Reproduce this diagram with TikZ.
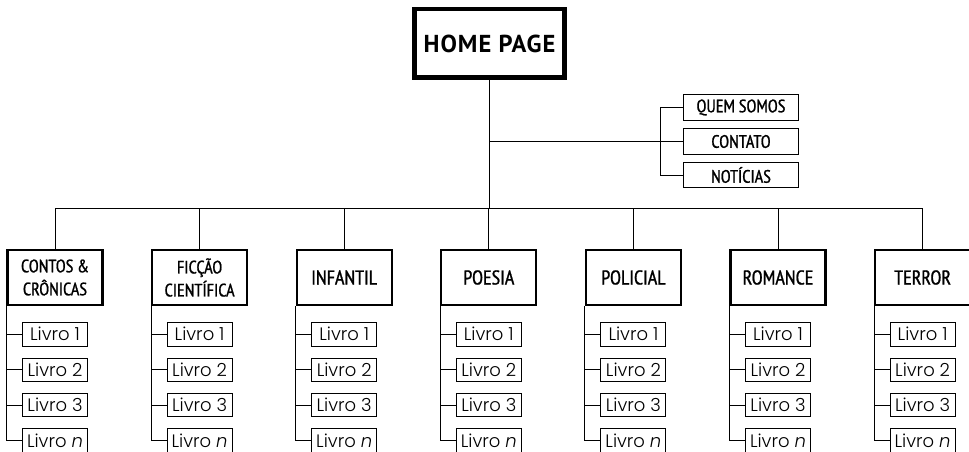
\documentclass[tikz,border=0pt]{standalone}
\usepackage{fontspec}
\setsansfont{PT Sans Narrow}
\newfontfamily\homefont[LetterSpace=4]{PT Sans}
\newfontfamily\bookfont{Poppins Light}
\usepackage{tikz}
\usetikzlibrary{positioning}
\definecolor{ink}{HTML}{000000}
\tikzset{
  link/.style={draw=ink, line width=1pt},
  home/.style={draw=ink, line width=4.5pt, minimum width=150, minimum height=68.5, inner sep=0pt, font=\homefont\bfseries\fontsize{24.5}{26}\selectfont},
  info/.style={draw=ink, line width=1.3pt, minimum width=115, minimum height=25.5, inner sep=0pt, font=\sffamily\fontsize{18}{20}\selectfont\addfontfeature{FakeBold=1}},
  cat/.style={draw=ink, line width=2.2pt, minimum width=95, minimum height=55, inner sep=0pt, align=center, font=\sffamily\fontsize{20}{22}\selectfont\addfontfeature{FakeBold=1}},
  cattwo/.style={cat, font=\sffamily\fontsize{18}{23}\selectfont\addfontfeature{FakeBold=1}},
  book/.style={draw=ink, line width=0.9pt, minimum width=65, minimum height=23.5, inner sep=0pt, font=\bookfont\fontsize{18}{18}\selectfont},
}
\begin{document}
\begin{tikzpicture}[x=1pt, y=-1pt, node distance=11pt]
  \useasboundingbox (0,0) rectangle (969,452);
  \node[home] (home) at (489.5,43.5) {HOME PAGE};
  \node[info] (quem) at (741,107.5) {QUEM SOMOS};
  \node[info] (contato) at (741,141.5) {CONTATO};
  \node[info] (noticias) at (741,175) {NOTÍCIAS};
  \coordinate (busy) at (0,208);
  \foreach \name/\kind/\txt [count=\i] in {contos/cattwo/{CONTOS \&\\CRÔNICAS}, ficcao/cattwo/{FICÇÃO\\CIENTÍFICA},
      infantil/cat/INFANTIL, poesia/cat/POESIA, policial/cat/POLICIAL, romance/cat/ROMANCE, terror/cat/TERROR} {
    \node[\kind] (\name) at ({55+144.6*(\i-1)},277.5) {\txt};
    \node[book, below=16pt of \name] (\name1) {Livro 1};
    \node[book, below=of \name1] (\name2) {Livro 2};
    \node[book, below=of \name2] (\name3) {Livro 3};
    \node[book, below=of \name3] (\name4) {Livro {\itshape n}};
    \draw[link] (\name.south west) |- (\name4.west);
    \foreach \k in {1,2,3}
      \draw[link] (\name.south west |- \name\k.west) -- (\name\k.west);
    \draw[link] (\name.north) -- (\name.north |- busy);
  }
  \draw[link] (home.south) -- (home.south |- busy);
  \draw[link] (contos.north |- busy) -- (terror.north |- busy);
  \draw[link] (home.south |- contato.west) -- (contato.west);
  \draw[link] (quem.west) -- ++(-22,0) |- (noticias.west);
\end{tikzpicture}
\end{document}
